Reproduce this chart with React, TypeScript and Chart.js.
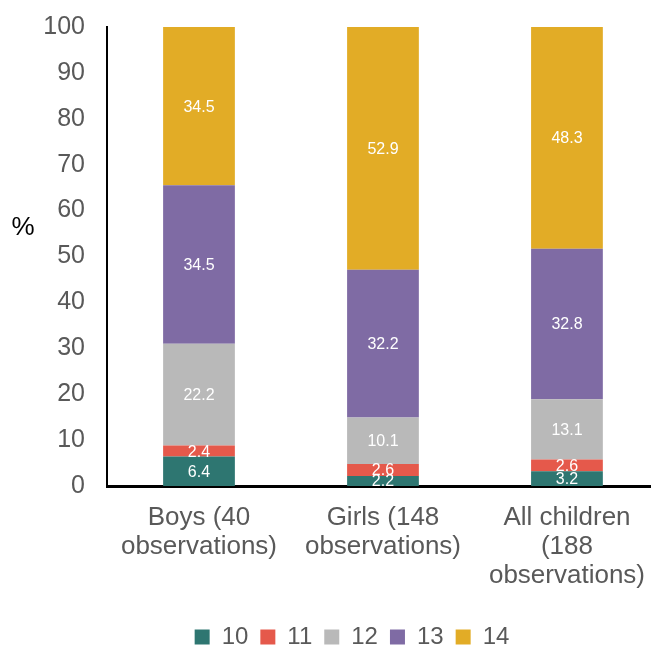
import React, { useEffect, useRef } from "react";
import { Chart, registerables } from "chart.js";

Chart.register(...registerables);

const categories: string[][] = [
  ["Boys (40", "observations)"],
  ["Girls (148", "observations)"],
  ["All children", "(188", "observations)"],
];
const seriesNames = ["10", "11", "12", "13", "14"];
const series10 = [6.4, 2.2, 3.2];
const series11 = [2.4, 2.6, 2.6];
const series12 = [22.2, 10.1, 13.1];
const series13 = [34.5, 32.2, 32.8];
const series14 = [34.5, 52.9, 48.3];
const seriesColors = ["#2E7671", "#E5594B", "#B9B9B9", "#7F6BA4", "#E2AC26"];
const yTicks = [0, 10, 20, 30, 40, 50, 60, 70, 80, 90, 100];

const FONT = "'Liberation Sans', Arial, sans-serif";

const valueLabels = {
  id: "valueLabels",
  afterDatasetsDraw(chart: any) {
    const ctx = chart.ctx;
    ctx.save();
    ctx.fillStyle = "#FFFFFF";
    ctx.font = `16px ${FONT}`;
    ctx.textAlign = "center";
    ctx.textBaseline = "middle";
    chart.data.datasets.forEach((ds: any, i: number) => {
      const meta = chart.getDatasetMeta(i);
      meta.data.forEach((el: any, j: number) => {
        const v = ds.data[j];
        const cy = (el.y + el.base) / 2;
        ctx.fillText(v.toFixed(1), el.x, cy + 1);
      });
    });
    ctx.restore();
  },
};

const percentLabel = {
  id: "percentLabel",
  afterDraw(chart: any) {
    const ctx = chart.ctx;
    ctx.save();
    ctx.fillStyle = "#000000";
    ctx.font = `26px ${FONT}`;
    ctx.textAlign = "center";
    ctx.textBaseline = "middle";
    ctx.fillText("%", 23, 228);
    ctx.restore();
  },
};

export default function App() {
  const ref = useRef<HTMLCanvasElement | null>(null);
  useEffect(() => {
    document.body.style.margin = "0";
    document.body.style.overflow = "hidden";
    const data = [series10, series11, series12, series13, series14];
    const chart = new Chart(ref.current as HTMLCanvasElement, {
      type: "bar",
      data: {
        labels: categories,
        datasets: seriesNames.map((n, i) => ({
          label: n,
          data: data[i],
          backgroundColor: seriesColors[i],
          borderWidth: 0,
          barPercentage: 0.39,
          categoryPercentage: 1,
        })),
      },
      options: {
        animation: false,
        responsive: true,
        maintainAspectRatio: false,
        layout: { padding: { top: 27, right: 0, bottom: 0, left: 42 } },
        plugins: {
          tooltip: { enabled: false },
          legend: {
            position: "bottom",
            labels: {
              boxWidth: 15,
              boxHeight: 15,
              padding: 12,
              color: "#595959",
              font: { family: FONT, size: 24 },
            },
          },
        },
        scales: {
          x: {
            stacked: true,
            grid: { display: false, drawTicks: false },
            border: { color: "#000000", width: 3 },
            ticks: {
              color: "#595959",
              padding: 17,
              maxRotation: 0,
              autoSkip: false,
              font: { family: FONT, size: 26, lineHeight: 1.12 },
            },
            afterFit(scale: any) {
              scale.height = 127;
            },
          },
          y: {
            stacked: true,
            min: 0,
            max: 100,
            afterBuildTicks(scale: any) {
              scale.ticks = yTicks.map((v) => ({ value: v }));
            },
            grid: { display: false, drawTicks: false },
            border: { color: "#000000", width: 2 },
            ticks: {
              color: "#595959",
              padding: 22,
              font: { family: FONT, size: 25, lineHeight: 0.4 },
            },
            afterFit(scale: any) {
              scale.width = 65;
              scale.paddingTop = 0;
            },
          },
        },
      },
      plugins: [valueLabels, percentLabel],
    } as any);
    return () => chart.destroy();
  }, []);
  return (
    <div style={{ width: 651, height: 646, overflow: "hidden" }}>
      <div style={{ width: 662, height: 659, position: "relative" }}>
        <canvas ref={ref} />
      </div>
    </div>
  );
}
